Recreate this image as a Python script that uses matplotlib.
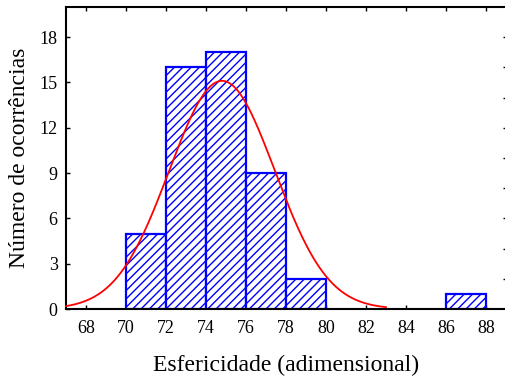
import numpy as np
import matplotlib
matplotlib.use("Agg")
import matplotlib.pyplot as plt

# Data
bin_edges = [70, 72, 74, 76, 78, 80, 82, 84, 86, 88]
counts = [5, 16, 17, 9, 2, 0, 0, 0, 1]
fit_mean = 74.8
fit_std = 2.64
curve_range = (67.0, 83.0)
n_total = sum(counts)
bin_width = 2

x_ticks = [68, 70, 72, 74, 76, 78, 80, 82, 84, 86, 88]
y_ticks = [0, 3, 6, 9, 12, 15, 18]

plt.rcParams['hatch.color'] = '#0000ff'
plt.rcParams['hatch.linewidth'] = 1.0
plt.rcParams['font.family'] = ['Liberation Serif', 'DejaVu Serif']

fig = plt.figure(figsize=(5.06, 3.83), dpi=100)
ax = fig.add_axes([66/506, 1 - 309/383, 1 - 66/506, (309 - 7)/383])

lefts = bin_edges[:-1]
for left, c in zip(lefts, counts):
    if c > 0:
        ax.bar(left, c, width=bin_width, align='edge', facecolor='white',
               edgecolor='#0000ff', linewidth=1.6, hatch='////', zorder=2)

xs = np.linspace(curve_range[0], curve_range[1], 300)
ys = n_total * bin_width / (fit_std * np.sqrt(2 * np.pi)) * np.exp(-0.5 * ((xs - fit_mean) / fit_std) ** 2)
ax.plot(xs, ys, color='#ff0000', linewidth=1.3, zorder=3, clip_on=False)

ax.set_xlim(67, 89)
ax.set_ylim(0, 20)
ax.set_xticks(x_ticks)
ax.set_yticks(y_ticks)
ax.tick_params(axis='both', direction='in', length=3, width=1, labelsize=13,
               top=True, right=False)
ax.tick_params(axis='x', pad=8)
ax.tick_params(axis='y', pad=6)
ax.spines['right'].set_visible(False)
for s in ['left', 'top', 'bottom']:
    ax.spines[s].set_linewidth(1.5)

ax2 = ax.twinx()
ax2.set_ylim(0, 20)
ax2.set_yticks(list(range(2, 20, 2)))
ax2.tick_params(axis='y', direction='in', length=2, width=1, labelright=False)
for s in ax2.spines.values():
    s.set_visible(False)

ax.set_xlabel('Esfericidade (adimensional)', fontsize=17, labelpad=13)
ax.set_ylabel('Número de ocorrências', fontsize=17, labelpad=7)

fig.savefig('out.png', dpi=100)
